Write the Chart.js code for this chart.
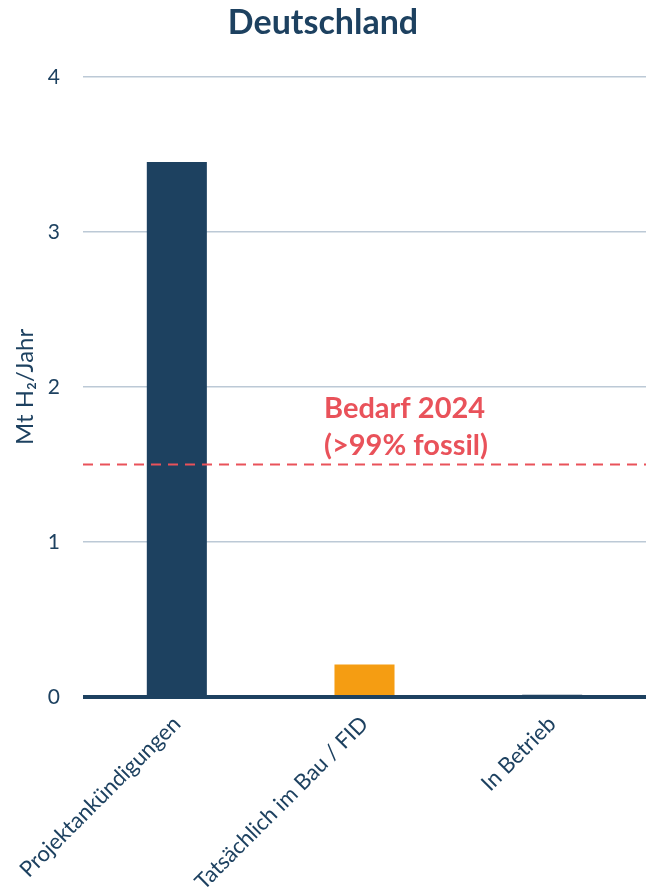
<!DOCTYPE html>
<html>
<head>
<meta charset="utf-8">
<script src="https://cdn.jsdelivr.net/npm/chart.js@4/dist/chart.umd.min.js"></script>
<style>
  html, body { margin: 0; padding: 0; background: #ffffff; }
  #wrap { width: 646px; height: 894px; }
</style>
</head>
<body>
<div id="wrap"><canvas id="c" width="646" height="894"></canvas></div>
<script>
// Wasserstoff-Erzeugung in Deutschland: angekündigt vs. im Bau vs. in Betrieb
const categories = ['Projektankündigungen', 'Tatsächlich im Bau / FID', 'In Betrieb'];
const values = [3.45, 0.21, 0.015];
const barColors = ['#1d4160', '#f59d12', '#1d4160'];
const yTicks = [0, 1, 2, 3, 4];
const demandValue = 1.5;
const demandLabel = ['Bedarf 2024', '(>99% fossil)'];

const NAVY = '#1d4160';
const GRID = '#bcc9d6';
const RED = '#e9525a';
const FONT = "Lato, 'DejaVu Sans', sans-serif";

// Bedarfslinie (gestrichelt), Beschriftung und Nulllinie über den Balken
const demandPlugin = {
  id: 'demand',
  afterDatasetsDraw(chart) {
    const { ctx, chartArea, scales } = chart;
    const y = scales.y.getPixelForValue(demandValue);
    const y0 = scales.y.getPixelForValue(0);
    ctx.save();
    // Nulllinie
    ctx.strokeStyle = NAVY;
    ctx.lineWidth = 4;
    ctx.beginPath();
    ctx.moveTo(chartArea.left, y0);
    ctx.lineTo(chartArea.right, y0);
    ctx.stroke();
    // Bedarf
    ctx.strokeStyle = RED;
    ctx.lineWidth = 2;
    ctx.setLineDash([10, 7]);
    ctx.beginPath();
    ctx.moveTo(chartArea.left, y);
    ctx.lineTo(chartArea.right, y);
    ctx.stroke();
    ctx.setLineDash([]);
    ctx.fillStyle = RED;
    ctx.font = "bold 29px " + FONT;
    ctx.textAlign = 'left';
    ctx.textBaseline = 'middle';
    const x = 324;
    ctx.fillText(demandLabel[0], x, y - 56);
    ctx.fillText(demandLabel[1], x, y - 19);
    ctx.restore();
  }
};

new Chart(document.getElementById('c'), {
  type: 'bar',
  data: {
    labels: categories,
    datasets: [{
      data: values,
      backgroundColor: barColors,
      borderWidth: 0,
      barPercentage: 0.64,
      categoryPercentage: 0.5
    }]
  },
  options: {
    responsive: false,
    animation: false,
    devicePixelRatio: 1,
    layout: { autoPadding: false, padding: 0 },
    plugins: {
      legend: { display: false },
      tooltip: { enabled: false },
      title: {
        display: true,
        text: 'Deutschland',
        color: NAVY,
        font: { family: FONT, size: 34, weight: 'bold' },
        padding: { top: 3, bottom: 33 }
      }
    },
    scales: {
      x: {
        grid: { display: false, drawTicks: false },
        border: { display: false },
        afterFit(scale) {
          scale.paddingLeft = 0;
          scale.paddingRight = 0;
          scale.height = 197;
        },
        ticks: {
          color: NAVY,
          font: { family: FONT, size: 22 },
          maxRotation: 45,
          minRotation: 45,
          padding: 14
        }
      },
      y: {
        min: 0,
        max: 4,
        afterBuildTicks(scale) {
          scale.ticks = yTicks.map(v => ({ value: v }));
        },
        afterFit(scale) {
          scale.width = 83;
        },
        grid: {
          color: GRID,
          lineWidth: 1.5,
          drawTicks: false
        },
        border: { display: false },
        ticks: {
          color: NAVY,
          font: { family: FONT, size: 21 },
          padding: 23
        },
        title: {
          display: true,
          text: 'Mt H₂/Jahr',
          color: NAVY,
          font: { family: FONT, size: 24 },
          padding: { top: 11, bottom: 8 }
        }
      }
    }
  },
  plugins: [demandPlugin]
});
</script>
</body>
</html>
